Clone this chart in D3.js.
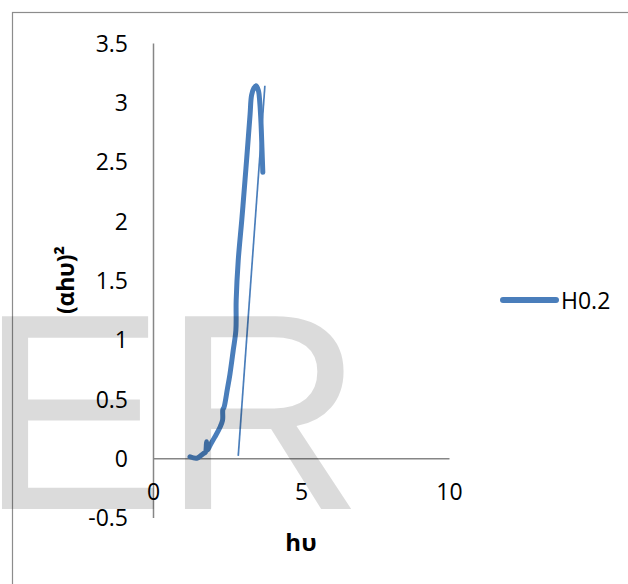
<!DOCTYPE html>
<html>
<head>
<meta charset="utf-8">
<script src="https://cdn.jsdelivr.net/npm/d3@7"></script>
<style>
  html, body { margin: 0; padding: 0; background: #fff; }
  svg { display: block; }
</style>
</head>
<body>
<svg id="chart" width="628" height="584"></svg>
<script>
// Tauc plot: (αhυ)² against photon energy hυ for sample H0.2
const seriesName = "H0.2";
const hv = [1.25, 1.48, 1.70, 1.77, 1.81, 1.84, 1.93, 2.09, 2.26, 2.35, 2.36, 2.40, 2.51, 2.60, 2.71,
            2.80, 2.81, 2.88, 3.00, 3.11, 3.17, 3.28, 3.33, 3.41, 3.48, 3.56, 3.61, 3.65, 3.68, 3.71];
const ahv2 = [0.013, 0.00, 0.04, 0.05, 0.14, 0.07, 0.11, 0.18, 0.26, 0.32, 0.41, 0.43, 0.58, 0.71, 0.91,
              1.08, 1.33, 1.67, 2.01, 2.35, 2.54, 2.90, 3.06, 3.12, 3.14, 3.10, 2.99, 2.82, 2.62, 2.41];
// linear extrapolation of the absorption edge
const fitX = [2.88, 3.78];
const fitY = [0.02, 3.14];

const xTicks = [0, 5, 10];
const xTickLabels = ["0", "5", "10"];
const yTicks = [-0.5, 0, 0.5, 1, 1.5, 2, 2.5, 3, 3.5];
const yTickLabels = ["-0.5", "0", "0.5", "1", "1.5", "2", "2.5", "3", "3.5"];

const blue = "#4a7ebb";
const axisGrey = "#868686";
const font = "'Open Sans', 'Noto Sans', sans-serif";

const svg = d3.select("#chart");

const x = d3.scaleLinear().domain([0, 10]).range([153, 449]);
const y = d3.scaleLinear().domain([-0.5, 3.5]).range([517.6, 43]);

// chart frame
svg.append("rect")
  .attr("x", 12.5).attr("y", 12.5)
  .attr("width", 700).attr("height", 700)
  .attr("fill", "#fff")
  .attr("stroke", "#8c8c8c").attr("stroke-width", 1.2);

// vertical axis (no tick marks)
const yAxis = svg.append("g")
  .attr("transform", `translate(${x(0)},0)`)
  .call(d3.axisLeft(y).tickValues(yTicks).tickSize(0).tickPadding(25)
    .tickFormat((d, i) => yTickLabels[i]));
yAxis.select(".domain").attr("stroke", axisGrey).attr("stroke-width", 1.5);
yAxis.selectAll("text")
  .attr("font-family", font).attr("font-size", 23).attr("fill", "#000")
  .attr("dy", "0.35em");

// horizontal axis crossing at zero, labels set lower
const xAxis = svg.append("g")
  .attr("transform", `translate(0,${y(0)})`)
  .call(d3.axisBottom(x).tickValues(xTicks).tickSize(0).tickPadding(0)
    .tickFormat((d, i) => xTickLabels[i]));
xAxis.select(".domain").attr("stroke", axisGrey).attr("stroke-width", 1.5);
xAxis.selectAll("text")
  .attr("font-family", font).attr("font-size", 23).attr("fill", "#000")
  .attr("y", 34).attr("dy", "0.35em");

// axis titles
svg.append("text")
  .attr("x", 301).attr("y", 541)
  .attr("text-anchor", "middle").attr("dominant-baseline", "central")
  .attr("font-family", font).attr("font-size", 24).attr("font-weight", "bold")
  .text("hυ");

svg.append("text")
  .attr("transform", "translate(65,280) rotate(-90)")
  .attr("text-anchor", "middle").attr("dominant-baseline", "central")
  .attr("font-family", font).attr("font-size", 23).attr("font-weight", "bold")
  .attr("textLength", 68).attr("lengthAdjust", "spacing")
  .text("(αhυ)²");

// data curve
const pts = hv.map((d, i) => [d, ahv2[i]]);
const line = d3.line()
  .x(d => x(d[0])).y(d => y(d[1]))
  .curve(d3.curveCatmullRom.alpha(0.5));

svg.append("path")
  .datum(pts)
  .attr("d", line)
  .attr("fill", "none")
  .attr("stroke", blue).attr("stroke-width", 5)
  .attr("stroke-linejoin", "round").attr("stroke-linecap", "round");

// extrapolated edge line
svg.append("path")
  .datum(fitX.map((d, i) => [d, fitY[i]]))
  .attr("d", d3.line().x(d => x(d[0])).y(d => y(d[1])))
  .attr("fill", "none")
  .attr("stroke", blue).attr("stroke-width", 1.7);

// legend
const legend = svg.append("g");
legend.append("line")
  .attr("x1", 503).attr("x2", 556).attr("y1", 300).attr("y2", 300)
  .attr("stroke", blue).attr("stroke-width", 6).attr("stroke-linecap", "round");
legend.append("text")
  .attr("x", 561).attr("y", 300)
  .attr("dominant-baseline", "central")
  .attr("font-family", font).attr("font-size", 23).attr("fill", "#000")
  .text(seriesName);

// translucent watermark lettering over the chart
const wm = svg.append("g")
  .attr("font-family", "'Liberation Sans', Arial, sans-serif")
  .attr("font-size", 280)
  .attr("fill", "#000").attr("fill-opacity", 0.14)
  .style("pointer-events", "none");
wm.append("text").attr("x", -21).attr("y", 509).text("E");
wm.append("text").attr("x", 162).attr("y", 509).text("R");
</script>
</body>
</html>
